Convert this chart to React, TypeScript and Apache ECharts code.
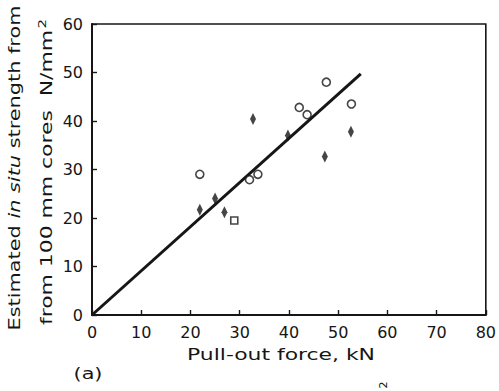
import React, { useEffect, useRef } from "react";
import * as echarts from "echarts";

// Pull-out force (kN) vs. estimated in-situ strength (N/mm²)
const xTicks = { min: 0, max: 80, interval: 10 };
const yTicks = { min: 0, max: 60, interval: 10 };

const openCircles: [number, number][] = [
  [21.9, 29.0],
  [32.0, 27.9],
  [33.7, 29.0],
  [42.1, 42.8],
  [43.7, 41.3],
  [47.6, 48.0],
  [52.7, 43.5],
];

const openSquares: [number, number][] = [[28.9, 19.5]];

const filledDiamonds: [number, number][] = [
  [21.9, 21.7],
  [25.0, 24.0],
  [26.9, 21.2],
  [32.7, 40.4],
  [39.8, 37.0],
  [47.3, 32.7],
  [52.6, 37.8],
];

const fitLine: [number, number][] = [
  [0, 0],
  [54.6, 49.7],
];

const xName = "Pull-out force, kN";
const yNameLine1 = ["Estimated ", "in situ", " strength from"];
const yNameLine2 = ["from 100 mm cores  N/mm", "2"];
const panelLabel = "(a)";

const FONT = "DejaVu Sans";
const INK = "#161616";

function textWidth(text: string, font: string): number {
  const ctx = document.createElement("canvas").getContext("2d");
  if (!ctx) return text.length * 9;
  ctx.font = font;
  return ctx.measureText(text).width;
}

export default function App() {
  const ref = useRef<HTMLDivElement>(null);

  useEffect(() => {
    document.body.style.margin = "0";
    if (!ref.current) return;
    const chart = echarts.init(ref.current, undefined, { renderer: "svg" });

    const fs = 16;
    const regular = `${fs}px "${FONT}"`;
    const italic = `italic ${fs}px "${FONT}"`;
    const supFont = `11px "${FONT}"`;

    // stretch factors so the wide lettering of the labels spans its length
    const w1 =
      textWidth(yNameLine1[0], regular) +
      textWidth(yNameLine1[1], italic) +
      textWidth(yNameLine1[2], regular);
    const w2 = textWidth(yNameLine2[0], regular) + textWidth(yNameLine2[1], supFont);
    const wx = textWidth(xName, regular);
    const s1 = 325 / w1;
    const s2 = 305 / w2;
    const sx = 188 / wx;

    const rich = {
      n: { fontSize: fs, fontFamily: FONT, fill: INK, lineHeight: 20 },
      i: { fontSize: fs, fontFamily: FONT, fontStyle: "italic", fill: INK, lineHeight: 20 },
      s: { fontSize: 11, fontFamily: FONT, fill: INK, verticalAlign: "top", lineHeight: 20, padding: [0, 0, 10, 1] },
    };

    chart.setOption({
      animation: false,
      backgroundColor: "#ffffff",
      grid: {
        left: 92,
        right: 10,
        top: 24,
        bottom: 76,
        show: true,
        borderColor: INK,
        borderWidth: 1.6,
      },
      xAxis: {
        type: "value",
        min: xTicks.min,
        max: xTicks.max,
        interval: xTicks.interval,
        axisLine: { show: true, lineStyle: { color: INK, width: 1.8 } },
        axisTick: { show: true, inside: true, length: 5, lineStyle: { color: INK, width: 1.4 } },
        axisLabel: { color: INK, fontSize: 16, fontFamily: FONT, margin: 9 },
        splitLine: { show: false },
      },
      yAxis: {
        type: "value",
        min: yTicks.min,
        max: yTicks.max,
        interval: yTicks.interval,
        axisLine: { show: true, lineStyle: { color: INK, width: 2 } },
        axisTick: { show: true, inside: true, length: 5, lineStyle: { color: INK, width: 1.4 } },
        axisLabel: { color: INK, fontSize: 16, fontFamily: FONT, margin: 9 },
        splitLine: { show: false },
      },
      series: [
        {
          type: "line",
          data: fitLine,
          showSymbol: false,
          lineStyle: { color: INK, width: 3 },
          z: 2,
        },
        {
          type: "scatter",
          data: openCircles,
          symbol: "circle",
          symbolSize: 8,
          itemStyle: { color: "#ffffff", borderColor: INK, borderWidth: 1.6 },
          z: 3,
        },
        {
          type: "scatter",
          data: openSquares,
          symbol: "rect",
          symbolSize: 7,
          itemStyle: { color: "#ffffff", borderColor: INK, borderWidth: 1.6 },
          z: 3,
        },
        {
          type: "scatter",
          data: filledDiamonds,
          symbol: "diamond",
          symbolSize: [6, 12],
          itemStyle: { color: INK },
          z: 3,
        },
      ],
      graphic: [
        {
          type: "text",
          x: 14,
          y: 168,
          rotation: Math.PI / 2,
          scaleX: s1,
          style: {
            text: `{n|${yNameLine1[0]}}{i|${yNameLine1[1]}}{n|${yNameLine1[2]}}`,
            rich,
            align: "center",
            verticalAlign: "middle",
          },
        },
        {
          type: "text",
          x: 47,
          y: 172,
          rotation: Math.PI / 2,
          scaleX: s2,
          style: {
            text: `{n|${yNameLine2[0]}}{s|${yNameLine2[1]}}`,
            rich,
            align: "center",
            verticalAlign: "middle",
          },
        },
        {
          type: "text",
          x: 281,
          y: 355,
          scaleX: sx,
          style: {
            text: xName,
            fontSize: fs,
            fontFamily: FONT,
            fill: INK,
            align: "center",
            verticalAlign: "middle",
          },
        },
        {
          type: "text",
          x: 88,
          y: 373,
          scaleX: 1.3,
          style: {
            text: panelLabel,
            fontSize: fs,
            fontFamily: FONT,
            fill: INK,
            align: "center",
            verticalAlign: "middle",
          },
        },
        {
          type: "text",
          x: 383,
          y: 385,
          rotation: Math.PI / 2,
          style: {
            text: "2",
            fontSize: 11,
            fontFamily: FONT,
            fill: INK,
            align: "center",
            verticalAlign: "middle",
          },
        },
      ],
    });

    return () => chart.dispose();
  }, []);

  return (
    <div
      ref={ref}
      style={{ position: "absolute", left: 0, top: 0, width: 499, height: 391 }}
    />
  );
}
